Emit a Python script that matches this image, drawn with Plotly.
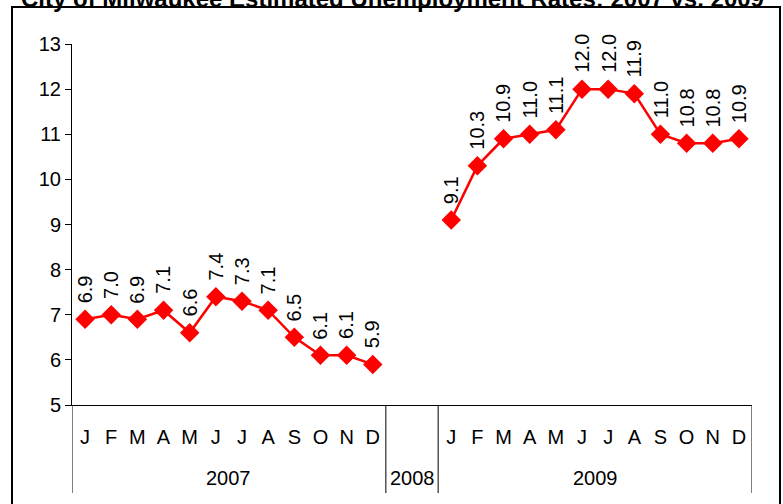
import plotly.graph_objects as go

# ---- data ----
years = ["2007", "2008", "2009"]
months = ["J", "F", "M", "A", "M", "J", "J", "A", "S", "O", "N", "D"]
rates_2007 = [6.9, 7.0, 6.9, 7.1, 6.6, 7.4, 7.3, 7.1, 6.5, 6.1, 6.1, 5.9]
rates_2009 = [9.1, 10.3, 10.9, 11.0, 11.1, 12.0, 12.0, 11.9, 11.0, 10.8, 10.8, 10.9]
gap_slots_2008 = 2  # empty category slots for 2008
title_text = "City of Milwaukee Estimated Unemployment Rates: 2007 vs. 2009"

# ---- build category positions ----
n07 = len(rates_2007)
x07 = list(range(n07))
x09 = list(range(n07 + gap_slots_2008, n07 + gap_slots_2008 + len(rates_2009)))
x_all = x07 + list(range(n07, n07 + gap_slots_2008)) + x09
y_all = rates_2007 + [None] * gap_slots_2008 + rates_2009
total = len(x_all)

W, H = 783, 504
L, R, T, B = 72, 31, 44, 99
ph = H - T - B
pw = W - L - R

def py(pix):  # pixel y -> paper y
    return (H - B - pix) / ph

def px(pix):
    return (pix - L) / pw

fig = go.Figure()
fig.add_trace(go.Scatter(
    x=x_all, y=y_all, mode="lines+markers",
    line=dict(color="#FF0000", width=2.5),
    marker=dict(symbol="diamond", size=15, color="#FF0000"),
    connectgaps=False, hoverinfo="skip", showlegend=False,
))

font = "Arial, Liberation Sans, sans-serif"

annotations = []
# data labels (rotated)
for xv, yv in zip(x07 + x09, rates_2007 + rates_2009):
    annotations.append(dict(
        x=xv, y=yv, xref="x", yref="y", text=f"{yv:.1f}", textangle=-90,
        showarrow=False, xanchor="center", yanchor="bottom", yshift=14,
        font=dict(family=font, size=20, color="black"),
    ))
# year labels
bounds = [-0.5, n07 - 0.5, n07 + gap_slots_2008 - 0.5, total - 0.5]
for i, yr in enumerate(years):
    annotations.append(dict(
        x=(bounds[i] + bounds[i + 1]) / 2, y=py(478), xref="x", yref="paper",
        text=yr, showarrow=False, xanchor="center", yanchor="middle",
        font=dict(family=font, size=20, color="black"),
    ))
# title (cut off at top, as in the original)
annotations.append(dict(
    x=px(392), y=py(-2), xref="paper", yref="paper", text=f"<b>{title_text}</b>",
    showarrow=False, xanchor="center", yanchor="middle",
    font=dict(family=font, size=24, color="black"),
))

shapes = []
for b in bounds:
    shapes.append(dict(type="line", xref="x", yref="paper", x0=b, x1=b,
                       y0=0, y1=py(493), line=dict(color="black", width=1)))
# outer border
shapes.append(dict(type="rect", xref="paper", yref="paper",
                   x0=px(12), x1=px(780), y0=py(515), y1=py(7),
                   line=dict(color="black", width=2)))

fig.update_layout(
    width=W, height=H,
    margin=dict(l=L, r=R, t=T, b=B),
    paper_bgcolor="white", plot_bgcolor="white",
    annotations=annotations, shapes=shapes,
    font=dict(family=font, color="black"),
)
fig.update_xaxes(
    range=[-0.5, total - 0.5],
    tickmode="array", tickvals=x07 + x09, ticktext=months + months,
    ticks="", showgrid=False, zeroline=False,
    showline=True, linecolor="black", linewidth=1,
    tickfont=dict(family=font, size=20, color="black"),
    ticklabelstandoff=14,
)
fig.update_yaxes(
    range=[5, 13], dtick=1, tick0=5,
    ticks="outside", ticklen=6, tickcolor="black",
    showgrid=False, zeroline=False,
    showline=True, linecolor="black", linewidth=1,
    tickfont=dict(family=font, size=20, color="black"),
)

fig.write_html(
    "out.html",
    config={"displayModeBar": False},
    post_script="document.body.style.margin='0';document.body.style.padding='0';",
)
